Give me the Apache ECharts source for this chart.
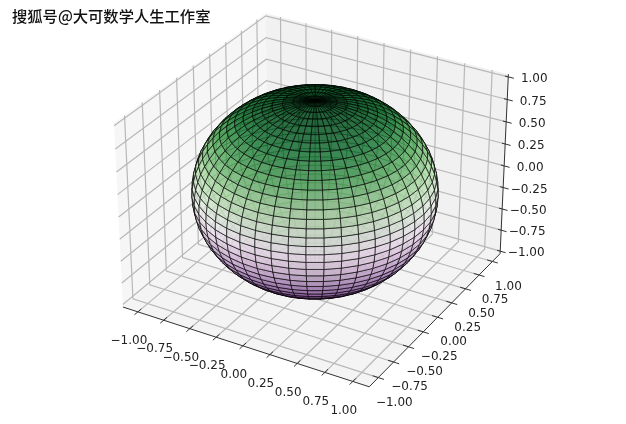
<!DOCTYPE html>
<html><head><meta charset="utf-8">
<style>html,body{margin:0;padding:0;background:#fff}#c{width:626px;height:424px}</style>
<script src="https://cdn.jsdelivr.net/npm/echarts@6/dist/echarts.min.js"></script>
</head><body><div id="c"></div>
<script>
// ---- data ----
const tickValues = [-1, -0.75, -0.5, -0.25, 0, 0.25, 0.5, 0.75, 1];
const tickLabels = ['−1.00','−0.75','−0.50','−0.25','0.00','0.25','0.50','0.75','1.00'];
const longitudesDeg = [0,8,16,24,32,40,48,56,64,72,80,88,96,104,112,120,128,136,144,152,160,168,176,184,192,200,208,216,224,232,240,248,256,264,272,280,288,296,304,312,320,328,336,344,352,360];
const colatitudesDeg = [0,5,10,15,20,25,30,35,40,45,50,55,60,65,70,75,80,85,90,95,100,105,110,115,120,125,130,135,140,145,150,155,160,165,170,175,180];
const sphereRadius = [1];
const boxHalfXY = [1.146];
const boxHalfZ = [1.03];
const colormapPRGn = ['#40004b','#762a83','#9970ab','#c2a5cf','#e7d4e8','#f7f7f7','#d9f0d3','#a6dba0','#5aae61','#1b7837','#00441b'];
const watermark = '搜狐号@大可数学人生工作室';

// ---- 3D view (elevation 30, azimuth -60, box aspect 4:4:3) ----
const LXY = boxHalfXY[0], LZ = boxHalfZ[0];
const hXY = 0.5952, hZ = 0.4464, dist = 10;
const U = [0.8660, 0.5, 0], V = [-0.25, 0.4330, 0.8660], N = [0.4330, -0.75, 0.5];
const dot = (a, b) => a[0]*b[0] + a[1]*b[1] + a[2]*b[2];
const rel = p => [p[0]/LXY*hXY, p[1]/LXY*hXY, p[2]/LZ*hZ];
const proj = p => { const r = rel(p), w = dist - dot(N, r); return [dot(U, r)/w, dot(V, r)/w]; };
const depth = p => dot(N, rel(p));

function colorAt(t) {
  const s = Math.max(0, Math.min(1, t)) * (colormapPRGn.length - 1), i = Math.min(Math.floor(s), colormapPRGn.length - 2), f = s - i;
  const h = c => [1,3,5].map(k => parseInt(c.substr(k,2),16));
  const a = h(colormapPRGn[i]), b = h(colormapPRGn[i+1]);
  return a.map((v,k) => Math.round(v + (b[k]-v)*f));
}

// sphere cells
const rad = d => d*Math.PI/180, R0 = sphereRadius[0];
const spherePoint = (lon, col) => [R0*Math.cos(rad(lon))*Math.sin(rad(col)), R0*Math.sin(rad(lon))*Math.sin(rad(col)), R0*Math.cos(rad(col))];
let cells = [];
for (let i = 0; i < longitudesDeg.length-1; i++) for (let j = 0; j < colatitudesDeg.length-1; j++) {
  const c = [[i,j],[i+1,j],[i+1,j+1],[i,j+1]].map(q => spherePoint(longitudesDeg[q[0]], colatitudesDeg[q[1]]));
  const m = [0,1,2].map(k => (c[0][k]+c[1][k]+c[2][k]+c[3][k])/4);
  cells.push({pts: c.map(proj), z: m[2], d: depth(m)});
}
cells.sort((a,b) => a.d - b.d);

// panes
const panes = [
  {pts: [[-LXY,-LXY,-LZ],[-LXY,LXY,-LZ],[-LXY,LXY,LZ],[-LXY,-LXY,LZ]].map(proj), fill:'#f6f6f6'},
  {pts: [[-LXY,LXY,-LZ],[LXY,LXY,-LZ],[LXY,LXY,LZ],[-LXY,LXY,LZ]].map(proj), fill:'#f1f1f1'},
  {pts: [[-LXY,-LXY,-LZ],[LXY,-LXY,-LZ],[LXY,LXY,-LZ],[-LXY,LXY,-LZ]].map(proj), fill:'#f4f4f4'}
];
// grid polylines
const gridLines = [];
tickValues.forEach(t => {
  gridLines.push([[t,-LXY,-LZ],[t,LXY,-LZ],[t,LXY,LZ]].map(proj));
  gridLines.push([[LXY,t,-LZ],[-LXY,t,-LZ],[-LXY,t,LZ]].map(proj));
  gridLines.push([[-LXY,-LXY,t],[-LXY,LXY,t],[LXY,LXY,t]].map(proj));
});
// axis lines and ticks
const axisLines = [
  [[-LXY,-LXY,-LZ],[LXY,-LXY,-LZ]].map(proj),
  [[LXY,-LXY,-LZ],[LXY,LXY,-LZ]].map(proj),
  [[LXY,LXY,-LZ],[LXY,LXY,LZ]].map(proj)
];
const tk = 0.05;
tickValues.forEach(t => {
  axisLines.push([[t,-LXY-tk,-LZ],[t,-LXY+tk,-LZ]].map(proj));
  axisLines.push([[LXY-tk,t,-LZ],[LXY+tk,t,-LZ]].map(proj));
  axisLines.push([[LXY-0.03,LXY,t],[LXY+0.05,LXY,t]].map(proj));
});
// tick labels
const labels = [];
tickValues.forEach((t,i) => {
  labels.push({p: proj([t,-LXY,-LZ]), text: tickLabels[i], dx:-9, dy:29});
  labels.push({p: proj([LXY,t,-LZ]), text: tickLabels[i], dx:16, dy:25});
  labels.push({p: proj([LXY,LXY,t]), text: tickLabels[i], dx:26, dy:2});
});

const idx = a => a.map((_,i) => [a[i].p ? a[i].p[0] : a[i].pts ? a[i].pts[0][0] : a[i][0][0], a[i].p ? a[i].p[1] : a[i].pts ? a[i].pts[0][1] : a[i][0][1], i]);
const polyPts = (api, pts) => pts.map(q => api.coord(q));

const chart = echarts.init(document.getElementById('c'), null, {renderer:'canvas'});
chart.setOption({
  animation:false,
  backgroundColor:'#fff',
  title:{text:watermark,left:7,top:4,textStyle:{fontFamily:'Noto Sans CJK SC',fontSize:15.3,fontWeight:500,color:'#111',textBorderColor:'#fff',textBorderWidth:2}},
  grid:{left:0,right:0,top:0,bottom:0},
  xAxis:{type:'value',min:-0.1329,max:0.1312,show:false},
  yAxis:{type:'value',min:-0.09915,max:0.08128,show:false},
  series:[
    {type:'custom',silent:true,clip:false,encode:{x:0,y:1},data:idx(panes),z:1,
     renderItem:(p,api)=>{const a=panes[api.value(2)];return {type:'polygon',shape:{points:polyPts(api,a.pts)},style:{fill:a.fill,stroke:null}};}},
    {type:'custom',silent:true,clip:false,encode:{x:0,y:1},data:idx(gridLines),z:2,
     renderItem:(p,api)=>({type:'polyline',shape:{points:polyPts(api,gridLines[api.value(2)])},style:{fill:null,stroke:'#b8b8b8',lineWidth:1.2}})},
    {type:'custom',silent:true,clip:false,encode:{x:0,y:1},data:idx(axisLines),z:3,
     renderItem:(p,api)=>({type:'polyline',shape:{points:polyPts(api,axisLines[api.value(2)])},style:{fill:null,stroke:'#333',lineWidth:1}})},
    {type:'custom',silent:true,clip:false,encode:{x:0,y:1},data:idx(cells),z:4,
     renderItem:(p,api)=>{const c=cells[api.value(2)],k=colorAt((c.z+1)/2);
       return {type:'polygon',shape:{points:polyPts(api,c.pts)},style:{fill:'rgba('+k.join(',')+',0.85)',stroke:'rgba(0,0,0,0.75)',lineWidth:0.8}};}},
    {type:'custom',silent:true,clip:false,encode:{x:0,y:1},data:idx(labels),z:5,
     renderItem:(p,api)=>{const l=labels[api.value(2)],q=api.coord(l.p);
       return {type:'text',x:q[0]+l.dx,y:q[1]+l.dy,style:{text:l.text,fill:'#222',font:'12px "DejaVu Sans"',align:'center',verticalAlign:'middle'}};}}
  ]
});
</script></body></html>
